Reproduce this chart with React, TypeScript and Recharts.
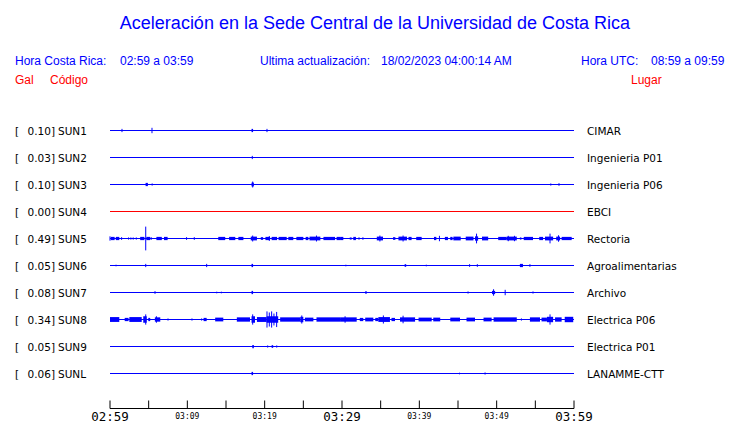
import { ComposedChart, Line, ReferenceArea, ReferenceLine, XAxis, YAxis } from 'recharts';

// minutes after 02:59 local time, one hour window
const tickMinutes = [0, 5, 10, 15, 20, 25, 30, 35, 40, 45, 50, 55, 60];
const tickLabels = ['02:59', '', '03:09', '', '03:19', '', '03:29', '', '03:39', '', '03:49', '', '03:59'];

const stations = ['SUN1', 'SUN2', 'SUN3', 'SUN4', 'SUN5', 'SUN6', 'SUN7', 'SUN8', 'SUN9', 'SUNL'];
const places = [
  'CIMAR',
  'Ingenieria P01',
  'Ingenieria P06',
  'EBCI',
  'Rectoria',
  'Agroalimentarias',
  'Archivo',
  'Electrica P06',
  'Electrica P01',
  'LANAMME-CTT',
];
const peakGal = [0.1, 0.03, 0.1, 0.0, 0.49, 0.05, 0.08, 0.34, 0.05, 0.06];

// [start minute, end minute, half amplitude in row units]; start === end is a single spike
type Burst = [number, number, number];

const sun1: Burst[] = [[1.55, 1.55, 0.06], [5.43, 5.43, 0.1], [18.3, 18.5, 0.06], [20.3, 20.3, 0.06]];
const sun2: Burst[] = [[18.4, 18.4, 0.06]];
const sun3: Burst[] = [
  [4.6, 4.9, 0.06], [5.45, 5.45, 0.04], [18.3, 18.6, 0.07], [18.45, 18.45, 0.11],
  [57.0, 57.0, 0.04], [58.06, 58.06, 0.05],
];
const sun4: Burst[] = [];
const sun5: Burst[] = [
  [0.0, 0.0, 0.08], [0.1, 0.6, 0.06], [0.75, 1.2, 0.06], [1.5, 1.5, 0.05],
  [2.4, 2.4, 0.04], [2.7, 2.7, 0.04], [3.0, 3.0, 0.04], [3.4, 3.4, 0.04],
  [3.9, 4.45, 0.06], [4.62, 4.62, 0.44], [4.7, 5.2, 0.06], [5.26, 5.4, 0.05],
  [6.0, 6.7, 0.06], [6.98, 7.45, 0.06], [9.9, 9.9, 0.05], [10.9, 10.9, 0.05],
  [14.0, 14.9, 0.06], [15.4, 16.2, 0.06], [16.6, 17.25, 0.06], [18.2, 19.0, 0.07], [18.45, 18.45, 0.11],
  [19.5, 19.8, 0.05], [20.1, 20.7, 0.06], [20.6, 20.6, 0.09], [20.9, 21.6, 0.06], [21.8, 22.85, 0.06],
  [23.06, 23.7, 0.06], [24.1, 25.0, 0.06], [25.3, 25.65, 0.06], [25.8, 27.2, 0.07], [26.7, 26.7, 0.11],
  [27.6, 29.1, 0.06], [29.3, 29.75, 0.06], [29.75, 30.17, 0.06], [31.0, 31.25, 0.04],
  [31.46, 31.8, 0.06], [32.1, 32.3, 0.04], [32.6, 32.8, 0.04], [34.5, 35.3, 0.07], [34.9, 34.9, 0.11],
  [36.6, 36.9, 0.05], [37.3, 38.4, 0.07], [37.9, 37.9, 0.11], [38.6, 39.0, 0.06], [39.6, 40.3, 0.06],
  [41.9, 42.2, 0.06], [42.6, 42.6, 0.1], [43.3, 43.7, 0.06], [44.0, 44.3, 0.06], [44.4, 45.35, 0.07],
  [46.0, 47.0, 0.07], [47.2, 47.6, 0.08], [47.4, 47.4, 0.18], [48.1, 48.9, 0.07], [50.2, 51.3, 0.06],
  [51.3, 52.6, 0.07], [51.5, 51.5, 0.1], [52.3, 52.3, 0.1], [53.0, 53.2, 0.04], [53.5, 54.7, 0.06],
  [55.5, 56.0, 0.06], [56.25, 57.3, 0.07], [56.9, 56.9, 0.18], [57.7, 58.2, 0.07], [58.0, 58.0, 0.12],
  [58.4, 59.7, 0.06],
];
const sun6: Burst[] = [
  [0.78, 0.78, 0.03], [4.62, 4.62, 0.06], [12.5, 12.5, 0.06], [18.3, 18.5, 0.06], [30.5, 30.5, 0.03],
  [38.1, 38.3, 0.05], [40.9, 40.9, 0.03], [46.5, 46.5, 0.05], [47.5, 47.5, 0.05], [53.0, 53.4, 0.06],
  [54.3, 54.3, 0.05],
];
const sun7: Burst[] = [
  [5.82, 5.82, 0.05], [13.8, 13.8, 0.03], [14.4, 14.4, 0.03], [18.3, 18.5, 0.06], [33.0, 33.2, 0.05],
  [46.3, 46.3, 0.04], [49.4, 49.8, 0.06], [49.6, 49.6, 0.12], [51.1, 51.1, 0.1], [54.7, 54.7, 0.04],
];
const sun8: Burst[] = [
  [0.0, 1.2, 0.09], [1.9, 2.4, 0.06], [2.5, 4.1, 0.09], [4.3, 4.75, 0.12], [4.62, 4.62, 0.19],
  [4.95, 5.2, 0.06], [5.8, 6.5, 0.08], [6.0, 6.0, 0.12], [7.5, 7.5, 0.04], [10.6, 10.6, 0.04],
  [11.85, 11.85, 0.04], [12.1, 12.5, 0.06], [13.6, 14.65, 0.07], [16.4, 18.1, 0.08], [18.3, 18.75, 0.12],
  [18.45, 18.45, 0.19], [19.0, 20.26, 0.09], [20.26, 21.75, 0.12], [20.3, 20.3, 0.3], [20.6, 20.6, 0.26],
  [20.9, 20.9, 0.3], [21.2, 21.2, 0.22], [21.55, 21.55, 0.28], [22.0, 24.6, 0.08], [24.6, 25.0, 0.1],
  [24.8, 24.8, 0.15], [25.2, 26.3, 0.07], [26.7, 29.75, 0.08], [29.75, 31.9, 0.08], [30.4, 30.4, 0.12],
  [32.3, 32.75, 0.06], [33.0, 34.05, 0.07], [34.3, 34.7, 0.06], [34.7, 36.2, 0.09], [35.35, 35.35, 0.15],
  [36.4, 36.85, 0.06], [37.5, 39.45, 0.08], [37.9, 37.9, 0.14], [39.9, 41.6, 0.07], [41.8, 42.7, 0.07],
  [44.0, 45.26, 0.07], [46.1, 47.2, 0.07], [48.3, 49.35, 0.07], [49.6, 52.6, 0.08], [53.2, 53.2, 0.04],
  [54.3, 55.6, 0.08], [55.8, 56.5, 0.07], [56.5, 57.3, 0.1], [56.9, 56.9, 0.19], [57.55, 58.4, 0.08],
  [58.8, 59.9, 0.1],
];
const sun9: Burst[] = [[18.4, 18.6, 0.06], [20.39, 20.39, 0.04], [20.9, 21.1, 0.05], [21.56, 21.56, 0.04]];
const sunL: Burst[] = [[18.3, 18.5, 0.06], [45.2, 45.2, 0.03], [48.5, 48.5, 0.04]];

const traces = [sun1, sun2, sun3, sun4, sun5, sun6, sun7, sun8, sun9, sunL];

const BLUE = '#0000ff';
const RED = '#ff0000';
const rows = stations.map((_, i) => i);
const yDomain = [-1, 10.296];

function TimeTick({ x, y, payload }: any) {
  const i = tickMinutes.indexOf(payload.value);
  const label = tickLabels[i];
  const major = payload.value % 30 === 0;
  return (
    <g>
      <line x1={x} x2={x} y1={y} y2={y - 8} stroke="#000" />
      {label && (
        <text
          x={x}
          y={y + (major ? 12.5 : 10.5)}
          textAnchor="middle"
          fontFamily="DejaVu Sans Mono"
          fontSize={major ? 12.5 : 8}
          fill="#000"
        >
          {label}
        </text>
      )}
    </g>
  );
}

function StationTick({ x, y, payload }: any) {
  const i = payload.value;
  return (
    <g fontFamily="DejaVu Sans" fontSize={10.5} fill="#000">
      <text x={x - 95} y={y + 4}>[</text>
      <text x={x - 55} y={y + 4} textAnchor="end">{`${peakGal[i].toFixed(2)}]`}</text>
      <text x={x - 52} y={y + 4}>{stations[i]}</text>
    </g>
  );
}

function PlaceTick({ x, y, payload }: any) {
  return (
    <text x={x + 13} y={y + 4} fontFamily="DejaVu Sans" fontSize={10.5} fill="#000">
      {places[payload.value]}
    </text>
  );
}

export default function App() {
  return (
    <div style={{ position: 'relative', width: 740, height: 423, background: '#fff' }}>
      <style>{'body{margin:0}'}</style>
      <ComposedChart width={740} height={423} margin={{ top: 103.5, right: 0, bottom: 0.5, left: 0 }}>
        <XAxis
          dataKey="t"
          type="number"
          domain={[0, 60]}
          allowDataOverflow
          ticks={tickMinutes}
          interval={0}
          height={14}
          tickSize={0}
          tickMargin={0}
          tickLine={false}
          axisLine={{ stroke: '#000' }}
          tick={<TimeTick />}
        />
        <YAxis
          yAxisId="left"
          type="number"
          domain={yDomain}
          allowDataOverflow
          reversed
          ticks={rows}
          interval={0}
          width={110}
          tickSize={0}
          tickMargin={0}
          tickLine={false}
          axisLine={false}
          tick={<StationTick />}
        />
        <YAxis
          yAxisId="right"
          orientation="right"
          type="number"
          domain={yDomain}
          allowDataOverflow
          reversed
          ticks={rows}
          interval={0}
          width={166}
          tickSize={0}
          tickMargin={0}
          tickLine={false}
          axisLine={false}
          tick={<PlaceTick />}
        />
        {rows.map((row) => (
          <Line
            key={`base-${row}`}
            yAxisId="left"
            data={[{ t: 0, v: row }, { t: 60, v: row }]}
            dataKey="v"
            stroke={peakGal[row] === 0 ? RED : BLUE}
            strokeWidth={1}
            dot={false}
            activeDot={false}
            isAnimationActive={false}
          />
        ))}
        {traces.map((bursts, row) =>
          bursts.map(([t0, t1, a], k) =>
            t1 > t0 ? (
              <ReferenceArea
                key={`a-${row}-${k}`}
                yAxisId="left"
                x1={t0}
                x2={t1}
                y1={row - a}
                y2={row + a}
                fill={BLUE}
                fillOpacity={1}
                stroke="none"
              />
            ) : (
              <ReferenceLine
                key={`s-${row}-${k}`}
                yAxisId="left"
                segment={[{ x: t0, y: row - a }, { x: t0, y: row + a }]}
                stroke={BLUE}
                strokeWidth={1}
              />
            ),
          ),
        )}
      </ComposedChart>
      <svg
        width={740}
        height={100}
        style={{ position: 'absolute', left: 0, top: 0, pointerEvents: 'none' }}
        fontFamily="Liberation Sans, Arial, sans-serif"
      >
        <text x={375} y={29} textAnchor="middle" fontSize={18} fill={BLUE}>
          Aceleración en la Sede Central de la Universidad de Costa Rica
        </text>
        <g fontSize={12} fill={BLUE}>
          <text x={15} y={65}>Hora Costa Rica:</text>
          <text x={120} y={65}>02:59 a 03:59</text>
          <text x={260} y={65}>Ultima actualización:</text>
          <text x={381} y={65}>18/02/2023 04:00:14 AM</text>
          <text x={581} y={65}>Hora UTC:</text>
          <text x={651} y={65}>08:59 a 09:59</text>
        </g>
        <g fontSize={12} fill={RED}>
          <text x={15} y={84}>Gal</text>
          <text x={50} y={84}>Código</text>
          <text x={631} y={84}>Lugar</text>
        </g>
      </svg>
    </div>
  );
}
